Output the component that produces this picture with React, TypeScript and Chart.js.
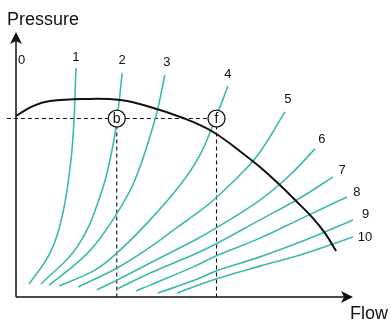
import { useEffect, useRef } from "react";
import { Chart, registerables } from "chart.js";

Chart.register(...registerables);

// System curves (flow, pressure), numbered 1..10; "0" is the zero-flow axis itself.
const curveLabels = ["1", "2", "3", "4", "5", "6", "7", "8", "9", "10"];
const curve1 = [[3.9, 4.9], [10.1, 16.7], [13.9, 31.8], [16.3, 51.9], [17.2, 67.0], [17.8, 86.7]];
const curve2 = [[7.4, 4.9], [18.1, 18.9], [24.9, 37.9], [28.5, 55.7], [30.3, 70.8], [31.5, 84.8]];
const curve3 = [[9.8, 4.5], [18.1, 12.9], [23.4, 19.7], [30.0, 31.8], [35.3, 44.3], [41.2, 67.0], [44.2, 84.1]];
const curve4 = [[12.8, 4.2], [23.4, 10.2], [30.0, 16.7], [39.8, 29.2], [48.7, 42.4], [54.6, 53.8], [59.0, 67.0], [62.9, 79.9]];
const curve5 = [[18.4, 3.8], [30.0, 11.0], [39.8, 18.9], [47.2, 25.8], [54.6, 32.6], [59.3, 37.5], [67.9, 48.1], [72.4, 54.9], [79.8, 70.1]];
const curve6 = [[24.0, 2.7], [30.0, 6.4], [39.8, 12.9], [53.1, 21.6], [59.3, 26.1], [72.4, 36.7], [81.3, 46.2], [88.7, 56.1]];
const curve7 = [[30.0, 3.0], [39.8, 9.1], [53.1, 16.3], [59.3, 20.1], [72.4, 29.2], [84.3, 37.5], [94.1, 45.5]];
const curve8 = [[35.6, 2.3], [39.8, 4.5], [53.1, 11.7], [59.3, 15.5], [72.4, 22.3], [84.3, 29.5], [98.2, 37.9]];
const curve9 = [[42.1, 1.5], [53.1, 6.4], [59.3, 9.8], [72.4, 15.2], [84.3, 20.8], [100, 29.2]];
const curve10 = [[47.8, 1.5], [59.3, 6.8], [72.4, 11.7], [84.3, 15.9], [100, 22.7]];
const systemCurves = [curve1, curve2, curve3, curve4, curve5, curve6, curve7, curve8, curve9, curve10];

// Pump curve
const pumpCurve = [
  [0, 68.6], [5.0, 72.3], [10.1, 74.2], [20.5, 75.0], [30.9, 74.6], [39.8, 72.0],
  [49.6, 67.8], [58.5, 62.5], [67.9, 53.8], [72.4, 49.2], [78.3, 42.4], [83.4, 36.0],
  [88.1, 29.9], [91.7, 24.2], [95.0, 17.4],
];

// Operating points on the common pressure level
const operatingPressure = 67.6;
const operatingLabels = ["b", "f"];
const operatingFlows = [29.9, 59.5];
const dashStartFlow = -2.7;

// Label placement next to each curve's upper end (pixels)
const labelOffsets = [[0, -10.5], [0, -12.5], [2, -13], [0, -11.5], [3, -12.5], [7, -9.5], [9, -6.5], [10, -4.5], [12.5, -5.5], [12, 0]];

const TEAL = "#3cb9ab";
const INK = "#111111";
const FONT = "'Liberation Sans', Arial, Helvetica, sans-serif";

const toPts = (arr: number[][]) => arr.map(([x, y]) => ({ x, y }));

const decor = {
  id: "decor",
  beforeDatasetsDraw(chart: any) {
    const { ctx, scales } = chart;
    const xs = scales.x, ys = scales.y;
    const x0 = xs.getPixelForValue(0);
    const y0 = ys.getPixelForValue(0);
    const xTip = xs.getPixelForValue(100);
    const yTip = ys.getPixelForValue(100) - 1;
    ctx.save();
    ctx.strokeStyle = INK;
    ctx.fillStyle = INK;
    ctx.lineWidth = 1.5;
    ctx.beginPath();
    ctx.moveTo(x0, y0);
    ctx.lineTo(x0, yTip + 8);
    ctx.moveTo(x0, y0);
    ctx.lineTo(xTip - 8, y0);
    ctx.stroke();
    // arrowheads
    ctx.beginPath();
    ctx.moveTo(x0, yTip);
    ctx.lineTo(x0 - 6, yTip + 12);
    ctx.lineTo(x0, yTip + 9);
    ctx.lineTo(x0 + 6, yTip + 12);
    ctx.closePath();
    ctx.fill();
    ctx.beginPath();
    ctx.moveTo(xTip, y0);
    ctx.lineTo(xTip - 12, y0 - 6);
    ctx.lineTo(xTip - 9, y0);
    ctx.lineTo(xTip - 12, y0 + 6);
    ctx.closePath();
    ctx.fill();
    ctx.restore();
  },
  afterDatasetsDraw(chart: any) {
    const { ctx, scales } = chart;
    const xs = scales.x, ys = scales.y;
    ctx.save();
    ctx.fillStyle = INK;
    // axis titles
    ctx.font = `18px ${FONT}`;
    ctx.textAlign = "left";
    ctx.textBaseline = "alphabetic";
    ctx.fillText("Pressure", 7, 25);
    ctx.fillText("Flow", 350, 319);
    // curve numbers
    ctx.font = `13px ${FONT}`;
    ctx.textAlign = "center";
    ctx.textBaseline = "middle";
    ctx.fillText("0", xs.getPixelForValue(0) + 5.5, ys.getPixelForValue(100) + 27.5);
    systemCurves.forEach((c, i) => {
      const [lx, ly] = c[c.length - 1];
      const [dx, dy] = labelOffsets[i];
      ctx.fillText(curveLabels[i], xs.getPixelForValue(lx) + dx, ys.getPixelForValue(ly) + dy);
    });
    // operating point letters
    ctx.font = `14px ${FONT}`;
    operatingLabels.forEach((t, i) => {
      ctx.fillText(t, xs.getPixelForValue(operatingFlows[i]), ys.getPixelForValue(operatingPressure) + 0.5);
    });
    ctx.restore();
  },
};

export default function App() {
  const ref = useRef<HTMLCanvasElement | null>(null);

  useEffect(() => {
    if (!ref.current) return;
    const lineBase = { showLine: true, pointRadius: 0, fill: false, tension: 0 };
    const datasets: any[] = [
      {
        ...lineBase,
        data: operatingFlows.map((x) => ({ x, y: operatingPressure })),
        showLine: false,
        pointRadius: 8.5,
        pointBackgroundColor: "#ffffff",
        pointBorderColor: INK,
        pointBorderWidth: 1.3,
        clip: false,
      },
      {
        ...lineBase,
        data: toPts(pumpCurve),
        borderColor: INK,
        borderWidth: 2,
        tension: 0.4,
      },
      ...systemCurves.map((c) => ({
        ...lineBase,
        data: toPts(c),
        borderColor: TEAL,
        borderWidth: 1.6,
        tension: 0.4,
        clip: false,
      })),
      {
        ...lineBase,
        data: [{ x: dashStartFlow, y: operatingPressure }, { x: operatingFlows[1], y: operatingPressure }],
        borderColor: INK,
        borderWidth: 1.1,
        borderDash: [4, 3],
        clip: false,
      },
      ...operatingFlows.map((f) => ({
        ...lineBase,
        data: [{ x: f, y: operatingPressure }, { x: f, y: 0 }],
        borderColor: INK,
        borderWidth: 1.1,
        borderDash: [4, 3],
      })),
    ];

    const chart = new Chart(ref.current, {
      type: "scatter",
      data: { datasets },
      options: {
        animation: false,
        responsive: false,
        devicePixelRatio: 1,
        layout: { padding: { left: 16, right: 38, top: 33, bottom: 28 } },
        plugins: { legend: { display: false }, tooltip: { enabled: false } },
        events: [],
        scales: {
          x: { type: "linear", min: 0, max: 100, display: false },
          y: { type: "linear", min: 0, max: 100, display: false },
        },
      },
      plugins: [decor],
    });
    return () => chart.destroy();
  }, []);

  return (
    <div style={{ position: "fixed", left: 0, top: 0, width: 391, height: 325, background: "#fff" }}>
      <canvas ref={ref} width={391} height={325} style={{ display: "block" }} />
    </div>
  );
}
